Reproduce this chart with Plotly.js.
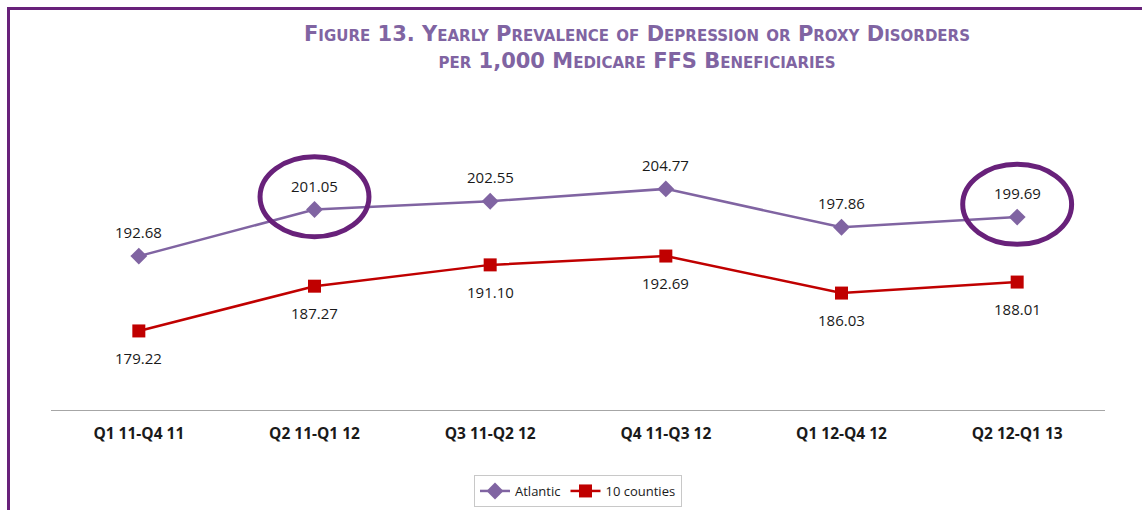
<!DOCTYPE html>
<html>
<head>
<meta charset="utf-8">
<script src="https://cdn.plot.ly/plotly-3.0.1.min.js"></script>
<style>html,body{margin:0;padding:0;background:#fff;}#chart{width:1142px;height:510px;}</style>
</head>
<body>
<div id="chart"></div>
<script>
// ---- data ----
const categories = ["Q1 11-Q4 11", "Q2 11-Q1 12", "Q3 11-Q2 12", "Q4 11-Q3 12", "Q1 12-Q4 12", "Q2 12-Q1 13"];
const atlantic = [192.68, 201.05, 202.55, 204.77, 197.86, 199.69];
const tenCounties = [179.22, 187.27, 191.10, 192.69, 186.03, 188.01];
const seriesNames = ["Atlantic", "10 counties"];
const highlighted = [1, 5]; // circled Atlantic points

// ---- layout constants (pixels) ----
const W = 1142, H = 510;
const M = {l: 51, r: 37, t: 132, b: 100};
const plotW = W - M.l - M.r, plotH = H - M.t - M.b;
const yRange = [165, 215];
const px2paperX = p => (p - M.l) / plotW;
const px2paperY = p => (H - M.b - p) / plotH;

const purple = "#8064a2", red = "#c00000", frame = "#68217a";

const traces = [
  {x: categories, y: atlantic, name: seriesNames[0], type: "scatter", mode: "lines+markers",
   line: {color: purple, width: 2.5}, marker: {symbol: "diamond", size: 13, color: purple}},
  {x: categories, y: tenCounties, name: seriesNames[1], type: "scatter", mode: "lines+markers",
   line: {color: red, width: 2.5}, marker: {symbol: "square", size: 13, color: red}}
];

const labelFont = {family: "Open Sans, Liberation Sans, sans-serif", size: 15, color: "#1a1a1a"};
const annotations = [];
categories.forEach((c, i) => {
  annotations.push({x: c, y: atlantic[i], xref: "x", yref: "y", text: atlantic[i].toFixed(2),
    showarrow: false, yshift: 24, font: labelFont});
  annotations.push({x: c, y: tenCounties[i], xref: "x", yref: "y", text: tenCounties[i].toFixed(2),
    showarrow: false, yshift: -27, font: labelFont});
});

const shapes = [];
// frame lines (top and left)
shapes.push({type: "line", xref: "paper", yref: "paper", x0: px2paperX(7), x1: px2paperX(W + 5),
  y0: px2paperY(8.5), y1: px2paperY(8.5), line: {color: frame, width: 3}});
shapes.push({type: "line", xref: "paper", yref: "paper", x0: px2paperX(8.5), x1: px2paperX(8.5),
  y0: px2paperY(7), y1: px2paperY(H + 5), line: {color: frame, width: 3}});
// highlight ellipses around circled points
highlighted.forEach(i => {
  shapes.push({type: "circle", xref: "x", yref: "y",
    x0: i - 0.31, x1: i + 0.31, y0: atlantic[i] + 2.3 - 7.2, y1: atlantic[i] + 2.3 + 7.2,
    line: {color: frame, width: 5}});
});

const layout = {
  width: W, height: H,
  margin: M,
  paper_bgcolor: "#fff", plot_bgcolor: "#fff",
  showlegend: true,
  hovermode: false,
  title: {
    text: "Figure 13. Yearly Prevalence of Depression or Proxy Disorders<br>per 1,000 Medicare FFS Beneficiaries",
    font: {family: "DejaVu Sans, sans-serif", size: 21, color: purple, weight: "bold", variant: "small-caps"},
    xref: "paper", x: px2paperX(637), xanchor: "center",
    yref: "container", y: 1 - 41 / H, yanchor: "middle"
  },
  xaxis: {
    type: "category", range: [-0.5, categories.length - 0.5],
    showgrid: false, zeroline: false,
    showline: true, linecolor: "#a6a6a6", linewidth: 1,
    ticks: "", ticklabelstandoff: 9,
    tickfont: {family: "Open Sans, Liberation Sans, sans-serif", size: 15.5, color: "#1a1a1a", weight: "bold"},
    fixedrange: true
  },
  yaxis: {range: yRange, visible: false, showgrid: false, zeroline: false, fixedrange: true},
  legend: {
    orientation: "h", xref: "paper", yref: "container",
    x: 0.5, xanchor: "center", y: (H - 475) / H, yanchor: "top",
    bordercolor: "#c8c8c8", borderwidth: 1,
    font: {family: "Open Sans, Liberation Sans, sans-serif", size: 13, color: "#1a1a1a"},
    itemwidth: 30, tracegroupgap: 0
  },
  annotations: annotations,
  shapes: shapes
};

Plotly.newPlot("chart", traces, layout, {displayModeBar: false, staticPlot: true});
</script>
</body>
</html>
